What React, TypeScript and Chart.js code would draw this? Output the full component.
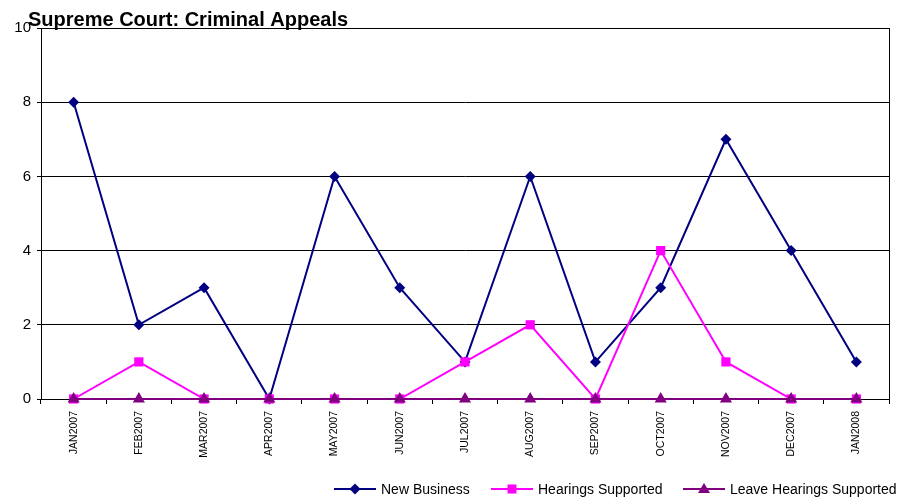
import React, { useEffect, useRef } from "react";
import { Chart, registerables } from "chart.js";

Chart.register(...registerables);

const categories = ["JAN2007","FEB2007","MAR2007","APR2007","MAY2007","JUN2007","JUL2007","AUG2007","SEP2007","OCT2007","NOV2007","DEC2007","JAN2008"];
const newBusiness = [8, 2, 3, 0, 6, 3, 1, 6, 1, 3, 7, 4, 1];
const hearingsSupported = [0, 1, 0, 0, 0, 0, 1, 2, 0, 4, 1, 0, 0];
const leaveHearingsSupported = [0, 0, 0, 0, 0, 0, 0, 0, 0, 0, 0, 0, 0];
const yTicks = [0, 2, 4, 6, 8, 10];
const titleText = "Supreme Court: Criminal Appeals";

const FONT = "Arial, 'Liberation Sans', sans-serif";

const series = [
  { label: "New Business", data: newBusiness, color: "#000080", style: "rectRot", radius: 5.5, order: 3 },
  { label: "Hearings Supported", data: hearingsSupported, color: "#FF00FF", style: "rect", radius: 6.5, order: 2 },
  { label: "Leave Hearings Supported", data: leaveHearingsSupported, color: "#800080", style: "triangle", radius: 7, order: 1 },
];

const legendX = [334, 491, 683];

const decorPlugin = {
  id: "decor",
  beforeDatasetsDraw(chart: any) {
    const ctx = chart.ctx;
    const a = chart.chartArea;
    ctx.save();
    ctx.strokeStyle = "#000";
    ctx.lineWidth = 1;
    ctx.strokeRect(Math.round(a.left) + 0.5, Math.round(a.top) + 0.5, Math.round(a.right - a.left), Math.round(a.bottom - a.top));
    ctx.restore();
  },
  afterDraw(chart: any) {
    const ctx = chart.ctx;
    ctx.save();
    // title
    ctx.fillStyle = "#000";
    ctx.font = `bold 20px ${FONT}`;
    ctx.textBaseline = "alphabetic";
    ctx.textAlign = "left";
    ctx.fillText(titleText, 28, 26);
    // legend
    ctx.font = `14px ${FONT}`;
    ctx.textBaseline = "middle";
    const y = 489;
    series.forEach((s, i) => {
      const x = legendX[i];
      ctx.strokeStyle = s.color;
      ctx.lineWidth = 2;
      ctx.beginPath();
      ctx.moveTo(x, y);
      ctx.lineTo(x + 42, y);
      ctx.stroke();
      ctx.fillStyle = s.color;
      const cx = x + 21;
      ctx.beginPath();
      if (s.style === "rectRot") {
        ctx.moveTo(cx, y - 5.5); ctx.lineTo(cx + 5.5, y); ctx.lineTo(cx, y + 5.5); ctx.lineTo(cx - 5.5, y); ctx.closePath();
      } else if (s.style === "rect") {
        ctx.rect(cx - 4.5, y - 4.5, 9, 9);
      } else {
        ctx.moveTo(cx, y - 6); ctx.lineTo(cx + 6, y + 4); ctx.lineTo(cx - 6, y + 4); ctx.closePath();
      }
      ctx.fill();
      ctx.fillStyle = "#000";
      ctx.fillText(s.label, x + 47, y + 1);
    });
    ctx.restore();
  },
};

export default function App() {
  const ref = useRef<HTMLCanvasElement>(null);
  useEffect(() => {
    document.body.style.margin = "0";
    const chart = new Chart(ref.current as HTMLCanvasElement, {
      type: "line",
      data: {
        labels: categories,
        datasets: series.map((s) => ({
          label: s.label,
          data: s.data,
          order: s.order,
          clip: false as any,
          borderColor: s.color,
          backgroundColor: s.color,
          borderWidth: 2,
          pointStyle: s.style as any,
          pointRadius: s.radius,
          pointBorderWidth: 0,
          pointBackgroundColor: s.color,
          tension: 0,
        })),
      },
      options: {
        animation: false,
        responsive: false,
        layout: { padding: { top: 28, right: 13, left: 0, bottom: 0 } },
        plugins: { legend: { display: false }, title: { display: false }, tooltip: { enabled: false } },
        scales: {
          x: {
            offset: true,
            grid: { display: true, drawOnChartArea: false, drawTicks: true, tickLength: 5, offset: true, color: "#000" },
            border: { display: true, color: "#000" },
            ticks: { minRotation: 90, maxRotation: 90, autoSkip: false, color: "#000", font: { family: FONT, size: 10.5 }, padding: 7 },
            afterFit: (scale: any) => { scale.height = 99; },
          },
          y: {
            min: 0,
            max: 10,
            afterBuildTicks: (scale: any) => { scale.ticks = yTicks.map((v) => ({ value: v })); },
            grid: { color: "#000", lineWidth: 1, tickLength: 4, drawTicks: true },
            border: { display: true, color: "#000" },
            ticks: { color: "#000", font: { family: FONT, size: 15 }, padding: 6 },
            afterFit: (scale: any) => { scale.width = 41; },
          },
        },
      },
      plugins: [decorPlugin],
    });
    return () => chart.destroy();
  }, []);
  return (
    <div style={{ width: 902, height: 498, background: "#fff" }}>
      <canvas ref={ref} width={902} height={498} style={{ display: "block" }} />
    </div>
  );
}
